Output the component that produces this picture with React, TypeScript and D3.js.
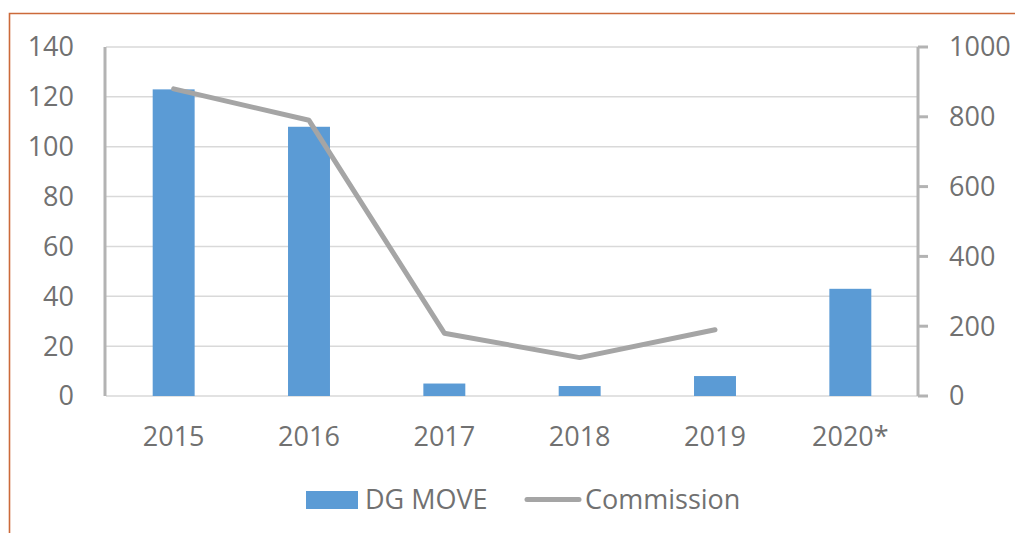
import React from "react";
import * as d3 from "d3";

const categories = ["2015", "2016", "2017", "2018", "2019", "2020*"];
const dgMove = [123, 108, 5, 4, 8, 43];
const commission: (number | null)[] = [880, 790, 180, 110, 190, null];
const leftTicks = [0, 20, 40, 60, 80, 100, 120, 140];
const rightTicks = [0, 200, 400, 600, 800, 1000];

const W = 1015;
const H = 533;
const plotL = 106;
const plotR = 918;
const plotT = 47;
const plotB = 396;
const FONT = "'Open Sans', sans-serif";
const TXT = "#717171";
const AX = "#b3b3b3";

export default function App() {
  const x = d3.scaleBand<string>().domain(categories).range([plotL, plotR]).paddingInner(0.69).paddingOuter(0.345);
  const yL = d3.scaleLinear().domain([0, 140]).range([plotB, plotT]);
  const yR = d3.scaleLinear().domain([0, 1000]).range([plotB, plotT]);
  const band = d3.scaleBand<string>().domain(categories).range([plotL, plotR]);
  const cx = (c: string) => (band(c) as number) + band.bandwidth() / 2;

  const lineData = categories
    .map((c, i) => ({ c, v: commission[i] }))
    .filter((d) => d.v !== null) as { c: string; v: number }[];
  const line = d3
    .line<{ c: string; v: number }>()
    .x((d) => cx(d.c))
    .y((d) => yR(d.v));

  return (
    <svg
      width={W}
      height={H}
      style={{ position: "fixed", left: 0, top: 0, background: "#fff" }}
      fontFamily={FONT}
    >
      <rect x={0} y={0} width={W} height={H} fill="#fff" />
      {/* border */}
      <path d={`M9.5,${H + 5} L9.5,13.5 L${W + 5},13.5`} fill="none" stroke="#cc6a3a" strokeWidth={1.6} />
      {/* gridlines */}
      {leftTicks.map((t) => (
        <line key={t} x1={plotL} x2={plotR} y1={yL(t)} y2={yL(t)} stroke="#d9d9d9" strokeWidth={1.5} />
      ))}
      {/* bars */}
      {categories.map((c, i) => (
        <rect
          key={c}
          x={x(c)}
          y={yL(dgMove[i])}
          width={x.bandwidth()}
          height={yL(0) - yL(dgMove[i])}
          fill="#5b9bd5"
        />
      ))}
      {/* left axis */}
      <line x1={plotL - 1} x2={plotL - 1} y1={plotT} y2={plotB} stroke={AX} strokeWidth={3} />
      {leftTicks.map((t) => (
        <text key={t} x={74} y={yL(t)} dy="0.35em" textAnchor="end" fontSize={27} fill={TXT}>
          {t}
        </text>
      ))}
      {/* right axis */}
      <line x1={plotR} x2={plotR} y1={plotT} y2={plotB} stroke={AX} strokeWidth={3} />
      {rightTicks.map((t) => (
        <g key={t}>
          <line x1={plotR} x2={plotR + 10} y1={yR(t)} y2={yR(t)} stroke={AX} strokeWidth={3} />
          <text x={949} y={yR(t)} dy="0.35em" textAnchor="start" fontSize={27} fill={TXT}>
            {t}
          </text>
        </g>
      ))}
      {/* line */}
      <path
        d={line(lineData) || ""}
        fill="none"
        stroke="#a5a5a5"
        strokeWidth={5}
        strokeLinejoin="round"
        strokeLinecap="round"
      />
      {/* x labels */}
      {categories.map((c) => (
        <text key={c} x={cx(c)} y={446} textAnchor="middle" fontSize={27} fill={TXT}>
          {c}
        </text>
      ))}
      {/* legend */}
      <rect x={306} y={491} width={52} height={18} fill="#5b9bd5" />
      <text x={365} y={509} fontSize={27} fill={TXT}>
        DG MOVE
      </text>
      <line x1={527} x2={579} y1={499.5} y2={499.5} stroke="#a5a5a5" strokeWidth={5} strokeLinecap="round" />
      <text x={585} y={509} fontSize={27} fill={TXT}>
        Commission
      </text>
    </svg>
  );
}
